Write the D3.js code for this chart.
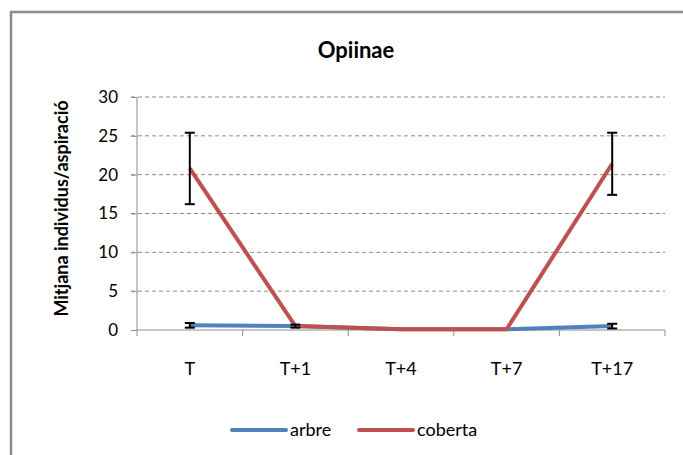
<!DOCTYPE html>
<html>
<head>
<meta charset="utf-8">
<script src="https://cdn.jsdelivr.net/npm/d3@7/dist/d3.min.js"></script>
<style>
    body { margin: 0; background: #fff; }
    text { font-family: Lato, "Open Sans", sans-serif; fill: #000; }
</style>
</head>
<body>
<svg id="mainsvg" width="683" height="455"></svg>
<script>
    // data
    const categories = ['T', 'T+1', 'T+4', 'T+7', 'T+17'];
    const arbre = [0.6, 0.5, 0.1, 0.1, 0.5];
    const arbreErr = [0.3, 0.2, 0, 0, 0.3];
    const coberta = [20.8, 0.5, 0.1, 0.1, 21.4];
    const cobertaErr = [4.6, 0, 0, 0, 4.0];
    const yTicks = [0, 5, 10, 15, 20, 25, 30];

    const series = [
        { name: 'arbre', values: arbre, err: arbreErr, color: '#4F81BD' },
        { name: 'coberta', values: coberta, err: cobertaErr, color: '#C0504D' }
    ];

    const svg = d3.select('#mainsvg');
    const pLeft = 137, pRight = 665, pTop = 97, pBottom = 330;

    // chart frame (only top and left edges visible)
    svg.append('path')
        .attr('d', 'M11,455 L11,12 L683,12')
        .attr('fill', 'none').attr('stroke', '#8c8c8c').attr('stroke-width', 2.5);

    const x = d3.scaleBand().domain(categories).range([pLeft, pRight]);
    const y = d3.scaleLinear().domain([0, 30]).range([pBottom, pTop]);

    // gridlines
    svg.append('g').selectAll('line').data(yTicks.filter(d => d > 0)).join('line')
        .attr('x1', pLeft - 6).attr('x2', pRight)
        .attr('y1', d => y(d)).attr('y2', d => y(d))
        .attr('stroke', '#8c8c8c').attr('stroke-width', 1)
        .attr('stroke-dasharray', '4,3');

    // y axis
    const yAxis = svg.append('g').attr('transform', `translate(${pLeft},0)`)
        .call(d3.axisLeft(y).tickValues(yTicks).tickSize(6).tickPadding(13));
    yAxis.selectAll('line,path').attr('stroke', '#8c8c8c');
    yAxis.select('.domain').attr('d', `M0,${pBottom}V${pTop}`);
    yAxis.selectAll('text').attr('font-size', 17).attr('font-family', 'Lato, sans-serif');

    // x axis with ticks at band edges
    const xAxis = svg.append('g').attr('transform', `translate(0,${pBottom})`);
    xAxis.append('line').attr('x1', pLeft).attr('x2', pRight)
        .attr('stroke', '#8c8c8c').attr('stroke-width', 1);
    const edges = categories.map(c => x(c)).concat([pRight]);
    xAxis.selectAll('.tk').data(edges).join('line').attr('class', 'tk')
        .attr('x1', d => d).attr('x2', d => d).attr('y1', 0).attr('y2', 6)
        .attr('stroke', '#8c8c8c');
    xAxis.selectAll('text').data(categories).join('text')
        .attr('x', d => x(d) + x.bandwidth() / 2).attr('y', 45)
        .attr('text-anchor', 'middle').attr('font-size', 18)
        .text(d => d);

    // lines
    const line = d3.line()
        .x((d, i) => x(categories[i]) + x.bandwidth() / 2)
        .y(d => y(d));
    series.forEach(s => {
        svg.append('path').datum(s.values)
            .attr('d', line)
            .attr('fill', 'none').attr('stroke', s.color)
            .attr('stroke-width', 4).attr('stroke-linejoin', 'round');
    });

    // error bars
    series.forEach(s => {
        const g = svg.append('g');
        s.values.forEach((v, i) => {
            const e = s.err[i];
            if (!e) return;
            const cx = x(categories[i]) + x.bandwidth() / 2;
            g.append('line').attr('x1', cx).attr('x2', cx)
                .attr('y1', y(v + e)).attr('y2', y(v - e))
                .attr('stroke', '#000').attr('stroke-width', 2);
            [v + e, v - e].forEach(t => {
                g.append('line').attr('x1', cx - 5).attr('x2', cx + 5)
                    .attr('y1', y(t)).attr('y2', y(t))
                    .attr('stroke', '#000').attr('stroke-width', 2);
            });
        });
    });

    // title
    svg.append('text').attr('x', 356).attr('y', 58)
        .attr('text-anchor', 'middle').attr('font-size', 22).attr('font-weight', 'bold')
        .text('Opiinae');

    // y axis title
    svg.append('text')
        .attr('transform', `translate(68,${(pTop + pBottom) / 2 - 5}) rotate(-90)`)
        .attr('text-anchor', 'middle').attr('font-size', 18).attr('font-weight', 'bold')
        .text('Mitjana individus/aspiració');

    // legend
    const legend = svg.selectAll('.legend').data(series).join('g')
        .attr('class', 'legend')
        .attr('transform', (d, i) => `translate(${232 + i * 127},430)`);
    legend.append('line').attr('x1', 0).attr('x2', 54)
        .attr('stroke', d => d.color).attr('stroke-width', 4)
        .attr('stroke-linecap', 'round');
    legend.append('text').attr('x', 58).attr('y', 6)
        .attr('font-size', 18).text(d => d.name);
</script>
</body>
</html>
